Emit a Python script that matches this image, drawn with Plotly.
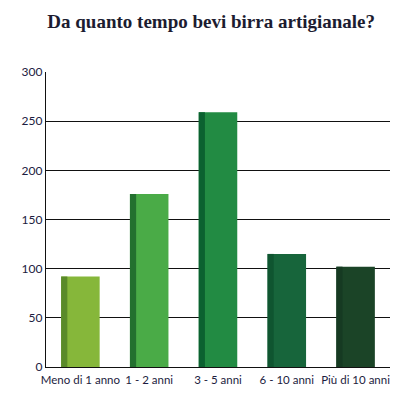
import plotly.graph_objects as go

categories = ["Meno di 1 anno", "1 - 2 anni", "3 - 5 anni", "6 - 10 anni", "Più di 10 anni"]
values = [92, 176, 259, 115, 102]
main_colors = ["#86b73a", "#4aab47", "#228b43", "#17653b", "#1b4427"]
side_colors = ["#5a8a2a", "#23702f", "#0b6130", "#0f5530", "#163a22"]
y_ticks = [0, 50, 100, 150, 200, 250, 300]

BW = 0.56
SW = 0.09

fig = go.Figure()
fig.add_trace(go.Bar(x=categories, y=values, marker=dict(color=main_colors, line=dict(width=0)),
                     width=BW, offset=-BW / 2, hoverinfo="x+y"))
fig.add_trace(go.Bar(x=categories, y=values, marker=dict(color=side_colors, line=dict(width=0)),
                     width=SW, offset=-BW / 2, hoverinfo="skip"))

fig.update_layout(
    width=400, height=394,
    barmode="overlay",
    showlegend=False,
    paper_bgcolor="white", plot_bgcolor="white",
    margin=dict(l=46, r=10, t=72, b=27, autoexpand=False),
    title=dict(text="<b>Da quanto tempo bevi birra artigianale?</b>",
               x=0.528, xanchor="center", y=0.945, yanchor="middle",
               font=dict(family="Liberation Serif", size=19, color="#1c1c30")),
    font=dict(family="Lato", size=12, color="#1c1c40"),
)
fig.update_yaxes(range=[0, 300], tickvals=y_ticks, showgrid=True, gridcolor="#111111", gridwidth=1.3,
                 showline=True, linecolor="#111111", linewidth=1.3, ticks="", ticklen=0,
                 tickfont=dict(size=12), zeroline=False, fixedrange=True, automargin=False)
fig.update_xaxes(showline=True, linecolor="#111111", linewidth=1.3, ticks="",
                 tickfont=dict(size=11.5), ticklabelstandoff=2, fixedrange=True, automargin=False)

fig.write_html("out.html", config={"displayModeBar": False},
               post_script="document.body.style.margin='0';")
